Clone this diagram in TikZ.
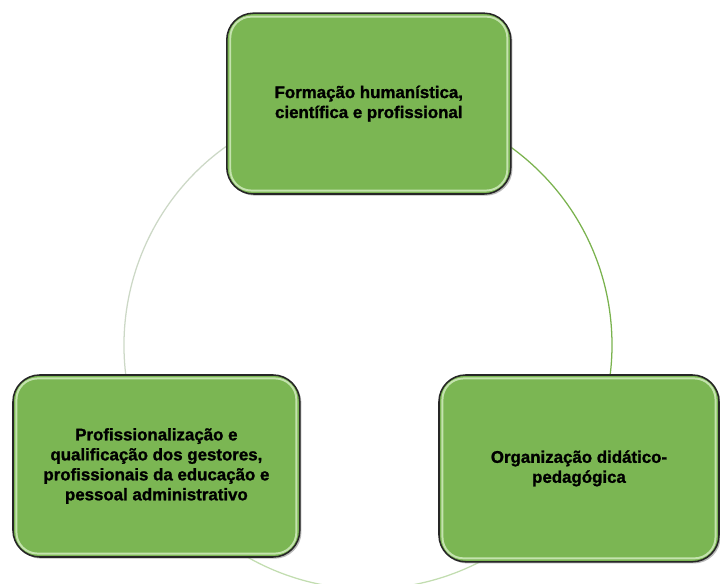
\documentclass[tikz,border=0pt]{standalone}
\usepackage{fontspec}
\setmainfont{Liberation Sans}
\usetikzlibrary{shadows}
\definecolor{verde}{HTML}{7BB653}
\definecolor{verdeluce}{HTML}{C4E3AE}
\definecolor{arcoverde}{HTML}{7AB24E}
\definecolor{arcochiaro}{HTML}{C2DDB0}
\definecolor{arcogrigio}{HTML}{CCD8C6}
\tikzset{
  casella/.style={draw=black!85, line width=1.1pt, fill=verde, rounded corners=19pt,
    align=center, font=\fontsize{12}{14.2}\selectfont\bfseries\addfontfeature{FakeBold=1.3},
    drop shadow={shadow xshift=1.2pt, shadow yshift=-1.2pt, opacity=0.55}},
  riflesso/.style={draw=verdeluce, line width=1.4pt, rounded corners=15pt}
}
\begin{document}
\begin{tikzpicture}
        \useasboundingbox (0,0) rectangle (18,14.6);
        % cerchio
        \coordinate (centro) at (9.2,5.975);
        \draw[arcoverde, line width=0.9pt] (centro) ++(90:6.1cm) arc[start angle=90, end angle=-30, radius=6.1cm];
        \draw[arcochiaro, line width=0.9pt] (centro) ++(-30:6.1cm) arc[start angle=-30, end angle=-150, radius=6.1cm];
        \draw[arcogrigio, line width=0.9pt] (centro) ++(-150:6.1cm) arc[start angle=-150, end angle=-270, radius=6.1cm];
        % caselle
        \node[casella, minimum width=7.1cm, minimum height=4.52cm] (formazione) at (9.22,12.01)
            {Formação humanística,\\científica e profissional};
        \node[casella, minimum width=7.17cm, minimum height=4.55cm] (professionale) at (3.91,2.95)
            {Profissionalização e\\qualificação dos gestores,\\profissionais da educação e\\pessoal administrativo};
        \node[casella, minimum width=7.0cm, minimum height=4.67cm] (organizzazione) at (14.475,2.89)
            {Organização didático-\\pedagógica};
        % riflessi interni
        \foreach \n in {formazione,professionale,organizzazione}
            \draw[riflesso] ([shift={(3pt,-3pt)}]\n.north west) rectangle ([shift={(-3pt,3pt)}]\n.south east);
\end{tikzpicture}
\end{document}
